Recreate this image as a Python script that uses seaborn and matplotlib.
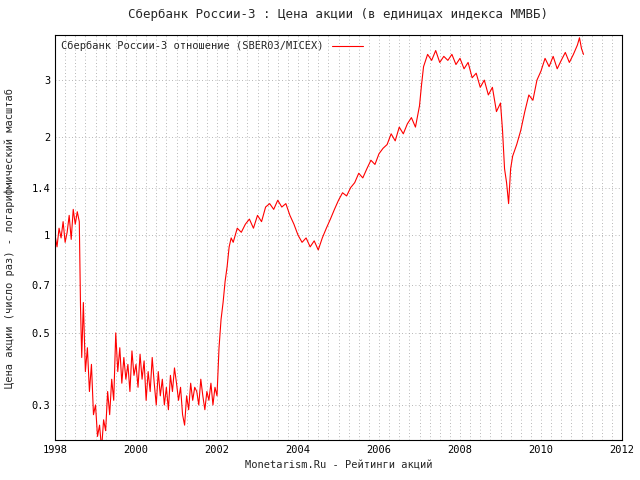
import matplotlib
matplotlib.use("Agg")
import matplotlib.pyplot as plt
import seaborn as sns
import pandas as pd
from matplotlib.ticker import FixedLocator, MultipleLocator, NullLocator

crisis_1998 = [(1998.00,1.00),(1998.05,0.92),(1998.10,1.05),(1998.15,0.98),(1998.20,1.10),(1998.25,0.95),
    (1998.30,1.02),(1998.35,1.15),(1998.40,0.97),(1998.45,1.20),(1998.50,1.08),(1998.55,1.18),(1998.60,1.10),
    (1998.63,0.60),(1998.66,0.42),(1998.70,0.62),(1998.75,0.38),(1998.80,0.45),(1998.85,0.33),(1998.90,0.40),
    (1998.95,0.28),(1999.00,0.30),(1999.05,0.24),(1999.10,0.26),(1999.15,0.22),(1999.20,0.27),(1999.25,0.25)]
flat_1999_2001 = [(1999.30,0.33),(1999.35,0.28),(1999.40,0.36),(1999.45,0.31),(1999.50,0.50),(1999.55,0.38),
    (1999.60,0.45),(1999.65,0.35),(1999.70,0.42),(1999.75,0.36),(1999.80,0.40),(1999.85,0.33),(1999.90,0.44),
    (1999.95,0.37),(2000.00,0.40),(2000.05,0.34),(2000.10,0.43),(2000.15,0.36),(2000.20,0.41),(2000.25,0.31),
    (2000.30,0.38),(2000.35,0.33),(2000.40,0.42),(2000.45,0.35),(2000.50,0.30),(2000.55,0.38),(2000.60,0.32),
    (2000.65,0.36),(2000.70,0.30),(2000.75,0.34),(2000.80,0.29),(2000.85,0.37),(2000.90,0.33),(2000.95,0.39),
    (2001.00,0.35),(2001.05,0.31),(2001.10,0.34),(2001.15,0.28),(2001.20,0.26),(2001.25,0.32),(2001.30,0.29),
    (2001.35,0.35),(2001.40,0.31),(2001.45,0.34),(2001.50,0.33),(2001.55,0.30),(2001.60,0.36),(2001.65,0.32),
    (2001.70,0.29),(2001.75,0.33),(2001.80,0.31),(2001.85,0.35),(2001.90,0.30),(2001.95,0.34),(2002.00,0.32)]
rise_2002_2007 = [(2002.05,0.45),(2002.10,0.55),(2002.15,0.62),(2002.20,0.72),(2002.25,0.80),(2002.30,0.92),
    (2002.35,0.98),(2002.40,0.95),(2002.50,1.05),(2002.60,1.02),(2002.70,1.08),(2002.80,1.12),(2002.90,1.05),
    (2003.00,1.15),(2003.10,1.10),(2003.20,1.22),(2003.30,1.25),(2003.40,1.20),(2003.50,1.28),(2003.60,1.22),
    (2003.70,1.25),(2003.80,1.15),(2003.90,1.08),(2004.00,1.00),(2004.10,0.95),(2004.20,0.98),(2004.30,0.92),
    (2004.40,0.96),(2004.50,0.90),(2004.60,0.98),(2004.70,1.05),(2004.80,1.12),(2004.90,1.20),(2005.00,1.28),
    (2005.10,1.35),(2005.20,1.32),(2005.30,1.40),(2005.40,1.45),(2005.50,1.55),(2005.60,1.50),(2005.70,1.60),
    (2005.80,1.70),(2005.90,1.65),(2006.00,1.78),(2006.10,1.85),(2006.20,1.90),(2006.30,2.05),(2006.40,1.95),
    (2006.50,2.15),(2006.60,2.05),(2006.70,2.20),(2006.80,2.30),(2006.90,2.15),(2007.00,2.50),(2007.05,2.90),
    (2007.10,3.30)]
peak_crash_recovery = [(2007.20,3.60),(2007.30,3.45),(2007.40,3.70),(2007.50,3.40),(2007.60,3.55),(2007.70,3.45),
    (2007.80,3.60),(2007.90,3.35),(2008.00,3.50),(2008.10,3.25),(2008.20,3.40),(2008.30,3.05),(2008.40,3.15),
    (2008.50,2.85),(2008.60,3.00),(2008.70,2.70),(2008.80,2.85),(2008.90,2.40),(2009.00,2.55),(2009.05,2.10),
    (2009.10,1.60),(2009.15,1.45),(2009.20,1.25),(2009.25,1.60),(2009.30,1.75),(2009.40,1.90),(2009.50,2.10),
    (2009.60,2.40),(2009.70,2.70),(2009.80,2.60),(2009.90,3.00),(2010.00,3.20),(2010.10,3.50),(2010.20,3.30),
    (2010.30,3.55),(2010.40,3.25),(2010.50,3.45),(2010.60,3.65),(2010.70,3.40),(2010.80,3.60),(2010.90,3.85),
    (2010.95,4.05),(2011.00,3.75),(2011.05,3.60)]

points = crisis_1998 + flat_1999_2001 + rise_2002_2007 + peak_crash_recovery
df = pd.DataFrame(points, columns=["year", "ratio"])

sns.set_style("white")
plt.rcParams['font.family'] = ['DejaVu Sans Mono', 'DejaVu Sans']
plt.rcParams['font.size'] = 7.5

fig = plt.figure(figsize=(6.4, 4.8), dpi=100)
ax = fig.add_axes([55/640, 40/480, 567/640, 405/480])
sns.lineplot(data=df, x="year", y="ratio", ax=ax, color="#ff0000", linewidth=0.8,
             label="Сбербанк России-3 отношение (SBER03/MICEX)")
ax.set_yscale("log")
ax.set_xlim(1998, 2012)
ax.set_ylim(0.234, 4.13)
yt = [0.3, 0.5, 0.7, 1, 1.4, 2, 3]
ax.yaxis.set_major_locator(FixedLocator(yt))
ax.yaxis.set_minor_locator(NullLocator())
ax.set_yticklabels(["0.3", "0.5", "0.7", "1", "1.4", "2", "3"])
ax.xaxis.set_major_locator(MultipleLocator(2))
ax.xaxis.set_minor_locator(MultipleLocator(0.25))
ax.xaxis.set_major_formatter(matplotlib.ticker.FuncFormatter(lambda v, p: f"{int(v)}"))
ax.grid(True, which="both", axis="x", color="#a0a0a0", linestyle=(0, (1, 3)), linewidth=0.6)
ax.grid(True, which="major", axis="y", color="#a0a0a0", linestyle=(0, (1, 3)), linewidth=0.6)
for s in ax.spines.values():
    s.set_color("black"); s.set_linewidth(0.8)
ax.tick_params(direction="in", length=4, colors="black", which="major")
ax.tick_params(direction="in", length=2, which="minor")
ax.set_xlabel("Monetarism.Ru - Рейтинги акций")
ax.set_ylabel("Цена акции (число раз) - логарифмический масштаб", labelpad=12)
ax.set_title("Сбербанк России-3 : Цена акции (в единицах индекса ММВБ)", pad=12)
leg = ax.legend(loc="upper left", frameon=False, markerfirst=False, handlelength=3,
                borderaxespad=0.2)
fig.savefig("out.png", dpi=100)
